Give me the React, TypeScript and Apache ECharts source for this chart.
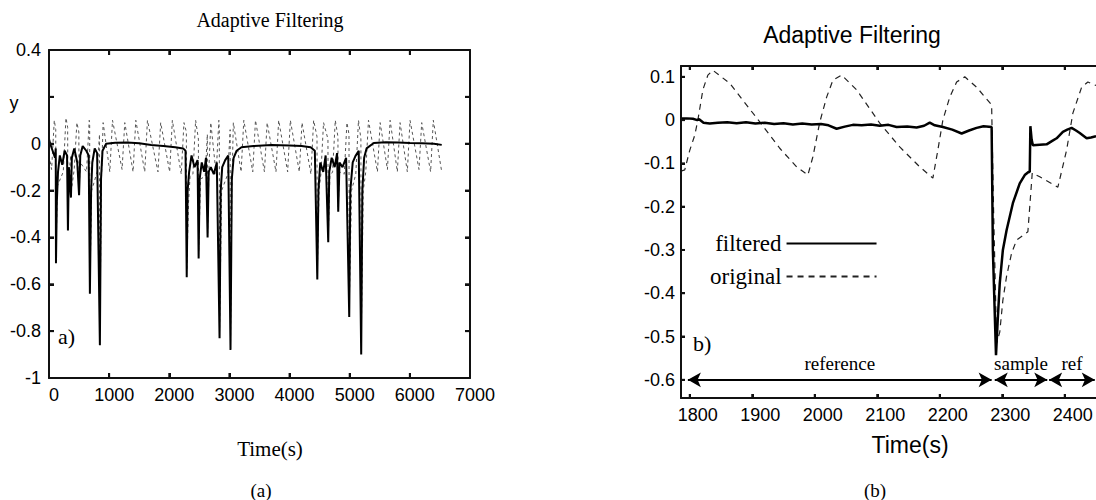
import React, { useEffect, useRef } from 'react';
import * as echarts from 'echarts';

const SERIF = 'Liberation Serif';
const SANS = 'Liberation Sans';

const chartTitle = 'Adaptive Filtering';
const xAxisName = 'Time(s)';
const captionA = '(a)';
const captionB = '(b)';
const tagA = 'a)';
const tagB = 'b)';
const legendNames = ['filtered', 'original'];

// Panel (a) axes
const xRangeA = [0, 7000];
const yRangeA = [-1, 0.4];
const xTicksA = [1000, 2000, 3000, 4000, 5000, 6000];
const yTicksA = [-0.8, -0.6, -0.4, -0.2, 0, 0.2];

// Panel (b) axes
const xRangeB = [1786, 2450];
const yRangeB = [-0.642, 0.125];
const xTicksB = [1800, 1900, 2000, 2100, 2200, 2300, 2400];
const yTicksB = [-0.6, -0.5, -0.4, -0.3, -0.2, -0.1, 0, 0.1];

// Panel (a): original signal (dashed)
const originalA: [number, number][] = [
  [0, -0.05], [43, -0.11], [88, 0.1], [112, 0.06], [116, -0.47], [140, -0.18],
  [237, -0.12], [282, 0.11], [310, 0.07], [315, -0.34], [335, -0.12], [362, -0.05],
  [366, -0.21], [419, -0.11], [464, 0.09], [496, 0.05], [500, -0.2], [520, -0.08],
  [624, -0.12], [669, 0.1], [676, 0.08], [680, -0.6], [710, -0.2], [800, -0.12],
  [840, 0.04], [846, -0.8], [872, -0.15], [900, 0.09], [1011, -0.12], [1056, 0.1],
  [1215, -0.11], [1260, 0.09], [1398, -0.12], [1443, 0.1], [1592, -0.12], [1637, 0.1],
  [1812, -0.12], [1857, 0.09], [2006, -0.12], [2051, 0.1], [2199, -0.13], [2244, 0.09],
  [2284, 0.05], [2290, -0.54], [2320, -0.25], [2345, -0.14], [2393, -0.13], [2438, 0.1],
  [2484, 0.02], [2488, -0.46], [2520, -0.15], [2597, -0.14], [2633, 0.04], [2637, -0.38],
  [2660, -0.1], [2690, 0.09], [2779, -0.13], [2824, 0.1], [2832, 0.05], [2836, -0.8],
  [2870, -0.2], [2973, -0.13], [3012, 0.06], [3018, -0.85], [3040, -0.2], [3065, 0.09],
  [3194, -0.12], [3239, 0.1], [3388, -0.12], [3433, 0.1], [3582, -0.12], [3627, 0.09],
  [3774, -0.12], [3819, 0.1], [3968, -0.12], [4013, 0.1], [4162, -0.12], [4207, 0.09],
  [4355, -0.13], [4400, 0.1], [4456, 0.03], [4461, -0.55], [4490, -0.2], [4520, -0.13],
  [4565, 0.09], [4638, 0.02], [4643, -0.4], [4670, -0.14], [4715, -0.12], [4760, 0.1],
  [4804, 0.03], [4809, -0.27], [4830, -0.12], [4909, -0.13], [4954, 0.09], [4988, 0.04],
  [4992, -0.7], [5030, -0.2], [5101, -0.13], [5146, 0.1], [5186, 0.02], [5191, -0.85],
  [5225, -0.2], [5267, -0.12], [5312, 0.1], [5461, -0.12], [5506, 0.09], [5627, -0.11],
  [5672, 0.1], [5792, -0.12], [5837, 0.09], [5958, -0.12], [6003, 0.1], [6152, -0.11],
  [6197, 0.09], [6345, -0.12], [6390, 0.1], [6530, -0.12],
];

// Panel (a): filtered signal (solid)
const filteredA: [number, number][] = [
  [0, 0.02], [20, 0.0], [60, -0.03], [100, -0.06], [112, -0.02], [116, -0.51], [130, -0.25],
  [150, -0.12], [180, -0.05], [220, -0.09], [260, -0.03], [300, -0.05], [315, -0.37],
  [330, -0.1], [365, -0.23], [380, -0.06], [420, -0.02], [470, -0.08], [500, -0.22],
  [520, -0.05], [560, -0.01], [620, -0.03], [660, -0.05], [680, -0.64], [700, -0.2],
  [720, -0.08], [760, -0.02], [800, -0.04], [846, -0.86], [865, -0.15], [890, -0.03],
  [950, 0.0], [1100, 0.004], [1300, 0.005], [1500, 0.002], [1700, -0.005], [1900, -0.01],
  [2100, -0.015], [2230, -0.02], [2270, -0.03], [2290, -0.57], [2305, -0.2], [2330, -0.12],
  [2370, -0.05], [2420, -0.1], [2470, -0.07], [2488, -0.49], [2505, -0.15], [2540, -0.08],
  [2580, -0.12], [2610, -0.06], [2637, -0.4], [2655, -0.12], [2690, -0.1], [2740, -0.13],
  [2790, -0.08], [2836, -0.83], [2855, -0.2], [2880, -0.1], [2930, -0.07], [2980, -0.05],
  [3018, -0.88], [3040, -0.15], [3070, -0.06], [3120, -0.03], [3200, -0.015], [3400, -0.01],
  [3700, -0.005], [4000, -0.008], [4200, -0.01], [4350, -0.015], [4420, -0.03], [4461, -0.58],
  [4480, -0.2], [4510, -0.08], [4560, -0.12], [4600, -0.05], [4643, -0.42], [4660, -0.12],
  [4700, -0.06], [4750, -0.1], [4790, -0.04], [4809, -0.29], [4830, -0.08], [4880, -0.1],
  [4940, -0.06], [4992, -0.74], [5010, -0.2], [5050, -0.08], [5100, -0.05], [5150, -0.03],
  [5191, -0.9], [5210, -0.2], [5240, -0.06], [5280, -0.02], [5400, 0.003], [5600, 0.006],
  [5800, 0.005], [6000, 0.003], [6200, 0.002], [6400, 0.0], [6530, -0.005],
];

// Panel (b): original signal (dashed)
const originalB: [number, number][] = [
  [1786, -0.118], [1792, -0.115], [1800, -0.07], [1808, -0.035], [1813, 0.0], [1821, 0.07],
  [1829, 0.104], [1837, 0.115], [1864, 0.085], [1907, 0.005], [1944, -0.065], [1971, -0.108],
  [1989, -0.127], [1997, -0.085], [2008, -0.005], [2019, 0.053], [2029, 0.092], [2043, 0.104],
  [2067, 0.07], [2104, -0.007], [2136, -0.062], [2168, -0.108], [2189, -0.134], [2197, -0.069],
  [2205, 0.0], [2216, 0.053], [2227, 0.088], [2240, 0.1], [2259, 0.076], [2283, 0.035],
  [2286, -0.2], [2291, -0.515], [2296, -0.49], [2301, -0.416], [2307, -0.36], [2315, -0.307],
  [2323, -0.277], [2341, -0.258], [2344, -0.2], [2348, -0.122], [2360, -0.131], [2389, -0.155],
  [2403, -0.069], [2413, 0.016], [2427, 0.076], [2437, 0.088], [2450, 0.08],
];

// Panel (b): filtered signal (solid)
const filteredB: [number, number][] = [
  [1786, 0.004], [1795, 0.004], [1805, 0.003], [1812, 0.0], [1815, 0.002], [1822, -0.006],
  [1832, -0.008], [1845, -0.006], [1860, -0.005], [1875, -0.007], [1890, -0.005], [1905, -0.008],
  [1920, -0.006], [1935, -0.009], [1950, -0.007], [1965, -0.01], [1980, -0.008], [1995, -0.01],
  [2010, -0.009], [2022, -0.012], [2035, -0.02], [2048, -0.015], [2061, -0.011], [2075, -0.012],
  [2090, -0.01], [2104, -0.013], [2118, -0.011], [2131, -0.016], [2148, -0.015], [2163, -0.017],
  [2175, -0.013], [2184, -0.006], [2192, -0.012], [2205, -0.016], [2220, -0.022], [2235, -0.031],
  [2247, -0.024], [2259, -0.018], [2270, -0.014], [2283, -0.016], [2285, -0.3], [2290, -0.543],
  [2293, -0.455], [2296, -0.377], [2301, -0.3], [2307, -0.254], [2317, -0.192], [2328, -0.146],
  [2336, -0.127], [2342, -0.12], [2344, -0.12], [2345, -0.014], [2347, -0.045], [2349, -0.058],
  [2360, -0.057], [2371, -0.056], [2380, -0.048], [2387, -0.042], [2397, -0.027], [2404, -0.022],
  [2411, -0.018], [2418, -0.024], [2424, -0.03], [2435, -0.042], [2442, -0.04], [2450, -0.037],
];

// Panel (b): segment arrows at y = -0.6
const arrowY = -0.6;
const arrowLabels = ['reference', 'sample', 'ref'];
const arrowStarts = [1797, 2288, 2375];
const arrowEnds = [2283, 2372, 2448];

const fmt1 = (v: number) => `${Math.round(v * 10) / 10}`;
const fmt0 = (v: number) => `${Math.round(v)}`;

const INK = '#111';
const mkLine = () => ({ show: true, onZero: false, lineStyle: { color: INK, width: 2 } });
const mkTick = (len: number, extra: any = {}) => ({ show: true, inside: true, length: len, lineStyle: { color: INK, width: 2 }, ...extra });

// Frame with inward ticks drawn through the axis scales (api.coord)
function frameSeries(xr: number[], yr: number[], xt: number[], yt: number[], tickLen: number, sides: string[]) {
  return {
    type: 'custom',
    clip: false,
    z: 10,
    data: [[(xr[0] + xr[1]) / 2, (yr[0] + yr[1]) / 2]],
    renderItem: (_p: any, api: any) => {
      const [L, T] = api.coord([xr[0], yr[1]]);
      const [R, B] = api.coord([xr[1], yr[0]]);
      const ch: any[] = [];
      const ln = (x1: number, y1: number, x2: number, y2: number) =>
        ch.push({ type: 'line', shape: { x1, y1, x2, y2 }, style: { stroke: INK, lineWidth: 2 } });
      if (sides.includes('top')) ln(L, T, R, T);
      if (sides.includes('bottom')) ln(L, B, R, B);
      if (sides.includes('left')) ln(L, T, L, B);
      if (sides.includes('right')) ln(R, T, R, B);
      xt.forEach((v) => {
        const px = api.coord([v, yr[0]])[0];
        if (sides.includes('bottom')) ln(px, B, px, B - tickLen);
        if (sides.includes('top')) ln(px, T, px, T + tickLen);
      });
      yt.forEach((v) => {
        const py = api.coord([xr[0], v])[1];
        if (sides.includes('left')) ln(L, py, L + tickLen, py);
        if (sides.includes('right')) ln(R, py, R - tickLen, py);
      });
      return { type: 'group', children: ch };
    },
  };
}

const text = (x: number, y: number, t: string, font: string, size: number, align = 'center') => ({
  type: 'text', x, y,
  style: { text: t, fontFamily: font, fontSize: size, fill: '#000', textAlign: align, textVerticalAlign: 'middle' },
});

function optionA(): any {
  return {
    animation: false,
    grid: { left: 49, right: 78, top: 50, bottom: 122 },
    xAxis: [
      {
        type: 'value', position: 'bottom', min: xRangeA[0], max: xRangeA[1], interval: 1000,
        axisLine: mkLine(), axisTick: mkTick(5), splitLine: { show: false },
        axisLabel: { color: '#000', fontFamily: SANS, fontSize: 18, margin: 8, padding: [0, 0, 0, 10], formatter: fmt0 },
      },
      {
        type: 'value', position: 'top', min: xRangeA[0], max: xRangeA[1], interval: 1000,
        axisLine: mkLine(), axisTick: mkTick(5), splitLine: { show: false }, axisLabel: { show: false },
      },
    ],
    yAxis: [
      {
        type: 'value', position: 'left', min: yRangeA[0], max: yRangeA[1], interval: 0.2,
        axisLine: mkLine(), axisTick: mkTick(5), splitLine: { show: false },
        axisLabel: {
          color: '#000', fontFamily: SANS, fontSize: 18, margin: 8,
          formatter: (v: number) => (Math.abs(v - 0.2) < 1e-6 ? '' : fmt1(v)),
        },
      },
      {
        type: 'value', position: 'right', min: yRangeA[0], max: yRangeA[1], interval: 0.2,
        axisLine: mkLine(), axisTick: mkTick(5), splitLine: { show: false }, axisLabel: { show: false },
      },
    ],
    graphic: [
      text(270, 20, chartTitle, SERIF, 20),
      text(270, 449, xAxisName, SERIF, 21),
      text(261, 490, captionA, SERIF, 19),
      text(58, 336, tagA, SERIF, 22, 'left'),
      text(14, 103, 'y', SANS, 18),
    ],
    series: [
      {
        name: 'originalA', type: 'line', data: originalA,
        symbol: 'none', showSymbol: false, z: 2,
        lineStyle: { color: '#555', width: 1, type: [3, 3] },
      },
      {
        name: 'filteredA', type: 'line', data: filteredA,
        symbol: 'none', showSymbol: false, z: 3,
        lineStyle: { color: '#000', width: 2 },
      },
      frameSeries(xRangeA, yRangeA, xTicksA, yTicksA, 5, ['top', 'bottom', 'left', 'right']),
    ],
  };
}

function optionB(): any {
  return {
    animation: false,
    grid: { left: 133, right: 0, top: 66, bottom: 102 },
    xAxis: [
      {
        type: 'value', position: 'bottom', min: xRangeB[0], max: xRangeB[1],
        axisLine: mkLine(), splitLine: { show: false },
        axisTick: mkTick(4, { customValues: xTicksB }),
        axisLabel: { color: '#000', fontFamily: SANS, fontSize: 18, margin: 8, padding: [0, 0, 0, 16], customValues: xTicksB, formatter: fmt0 },
      },
      {
        type: 'value', position: 'top', min: xRangeB[0], max: xRangeB[1],
        axisLine: mkLine(), splitLine: { show: false },
        axisTick: mkTick(4, { customValues: xTicksB }), axisLabel: { show: false },
      },
    ],
    yAxis: [
      {
        type: 'value', position: 'left', min: yRangeB[0], max: yRangeB[1],
        axisLine: mkLine(), splitLine: { show: false },
        axisTick: mkTick(4, { customValues: yTicksB }),
        axisLabel: { color: '#000', fontFamily: SANS, fontSize: 18, margin: 6, customValues: yTicksB, formatter: (v: number) => fmt1(v) },
      },
    ],
    legend: {
      data: legendNames,
      orient: 'vertical',
      left: 157,
      top: 227,
      align: 'right',
      itemWidth: 90,
      itemHeight: 10,
      itemGap: 10,
      selectedMode: false,
      itemStyle: { opacity: 0 },
      textStyle: { fontFamily: SERIF, fontSize: 23, color: '#000', lineHeight: 23 },
    },
    graphic: [
      text(304, 35, chartTitle, SANS, 23),
      text(362, 445, xAxisName, SANS, 23),
      text(327, 490, captionB, SERIF, 19),
      text(145, 343, tagB, SERIF, 22, 'left'),
    ],
    series: [
      {
        name: 'original', type: 'line', data: originalB,
        symbol: 'none', showSymbol: false, z: 2, itemStyle: { color: '#222' },
        lineStyle: { color: '#222', width: 1.2, type: [6, 5] },
      },
      {
        name: 'filtered', type: 'line', data: filteredB,
        symbol: 'none', showSymbol: false, z: 3, itemStyle: { color: '#000' },
        lineStyle: { color: '#000', width: 2.5 },
        markLine: {
          silent: true,
          symbol: ['arrow', 'arrow'],
          symbolSize: [11, 13],
          lineStyle: { color: '#000', width: 2, type: 'solid' },
          label: { show: true, position: 'middle', distance: 7, formatter: '{b}', fontFamily: SERIF, fontSize: 19, color: '#000' },
          data: arrowLabels.map((name, i) => [
            { name, coord: [arrowStarts[i], arrowY] },
            { coord: [arrowEnds[i], arrowY] },
          ]),
        },
      },
      frameSeries(xRangeB, yRangeB, xTicksB, yTicksB, 4, ['top', 'bottom', 'left']),
    ],
  };
}

export default function App() {
  const refA = useRef<HTMLDivElement>(null);
  const refB = useRef<HTMLDivElement>(null);

  useEffect(() => {
    document.body.style.margin = '0';
    if (!refA.current || !refB.current) return;
    const a = echarts.init(refA.current, null, { renderer: 'svg' });
    const b = echarts.init(refB.current, null, { renderer: 'svg' });
    a.setOption(optionA());
    b.setOption(optionB());
    return () => {
      a.dispose();
      b.dispose();
    };
  }, []);

  return (
    <div style={{ position: 'relative', width: 1096, height: 500, background: '#fff' }}>
      <div ref={refA} style={{ position: 'absolute', left: 0, top: 0, width: 548, height: 500 }} />
      <div ref={refB} style={{ position: 'absolute', left: 548, top: 0, width: 548, height: 500 }} />
    </div>
  );
}
